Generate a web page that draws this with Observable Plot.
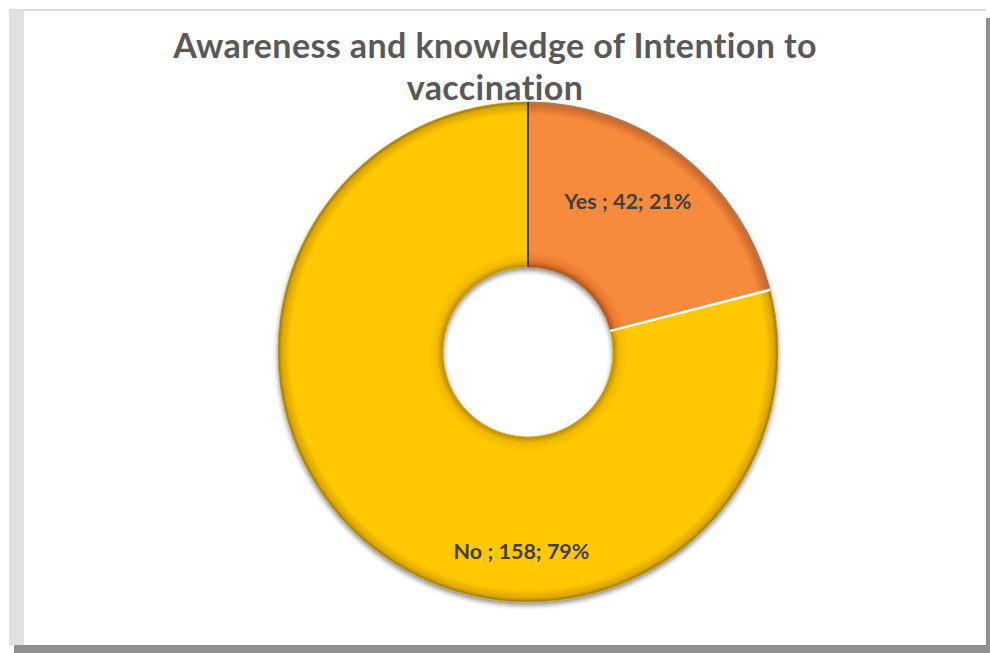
<!DOCTYPE html>
<html>
<head>
<meta charset="utf-8">
<script src="https://cdn.jsdelivr.net/npm/d3@7"></script>
<script src="https://cdn.jsdelivr.net/npm/@observablehq/plot@0.6"></script>
<style>
  html, body { margin: 0; padding: 0; background: #ffffff; }
  #page { position: relative; width: 990px; height: 653px; overflow: hidden; background: #ffffff; }
  #frame {
    position: absolute; left: 9px; top: 9px; width: 962px; height: 634px;
    background: #ffffff;
    border-top: 2px solid #dcdcdc;
    border-left: 15px solid #e1e1e1;
    box-shadow: 5px 9px 0 #8f8f8f;
  }
  #title {
    position: absolute; left: 0; top: 24px; width: 990px; text-align: center;
    font-family: Lato, "Open Sans", sans-serif; font-weight: bold; font-size: 34px;
    letter-spacing: 0.4px; line-height: 42px; color: #595959;
  }
  #title span { display: block; position: relative; left: 0; }
  #chart { position: absolute; left: 0; top: 0; }
</style>
</head>
<body>
<div id="page">
  <div id="frame"></div>
  <div id="chart"></div>
  <div id="title"><span>Awareness and knowledge of Intention to</span><span>vaccination</span></div>
</div>
<script>
// ---- data ----
const categories = ["Yes", "No"];
const counts = [42, 158];
const percents = [21, 79];

// ---- presentation ----
const colors = { Yes: "#F68A3C", No: "#FFC800" };
const innerRatio = 0.34;
// label placement (polar, angle clockwise from 12 o'clock in degrees, radius as fraction of outer radius)
const labelPlacement = { Yes: { angle: 33.5, r: 0.72 }, No: { angle: 182, r: 0.80 } };
const cx = 528, cy = 352, R = 250;

const rows = categories.map((c, i) => ({ category: c, count: counts[i], percent: percents[i] }));
const arcs = d3.pie().sort(null).value(d => d.count)(rows);

const labels = rows.map(d => {
  const p = labelPlacement[d.category];
  const a = p.angle * Math.PI / 180;
  return { ...d, lx: p.r * Math.sin(a), ly: p.r * Math.cos(a), text: `${d.category} ; ${d.count}; ${d.percent}%` };
});

function donutMark(index, scales, values, dimensions) {
  const X = scales && scales.x ? scales.x : (v => cx + v * R);
  const Y = scales && scales.y ? scales.y : (v => cy - v * R);
  const ox = X(0), oy = Y(0), rad = X(1) - X(0);
  const r0 = rad * innerRatio;
  const g = d3.create("svg:g");
  const defs = g.append("defs");
  const filt = defs.append("filter").attr("id", "shadow").attr("x", "-20%").attr("y", "-20%").attr("width", "140%").attr("height", "140%");
  filt.append("feDropShadow").attr("dx", 0).attr("dy", 3).attr("stdDeviation", 2.5).attr("flood-color", "#000").attr("flood-opacity", 0.45);

  const grad = (id, dark, mid, base, edge, rim) => {
    const gr = defs.append("radialGradient").attr("id", id).attr("gradientUnits", "userSpaceOnUse")
      .attr("cx", 0).attr("cy", 0).attr("r", rad);
    [[innerRatio, dark], [innerRatio + 0.025, mid], [innerRatio + 0.06, base], [0.95, base], [0.985, edge], [1, rim]]
      .forEach(([o, c]) => gr.append("stop").attr("offset", o).attr("stop-color", c));
  };
  grad("g-Yes", "#A85418", "#E8782E", colors.Yes, "#D26C2A", "#9a7a66");
  grad("g-No", "#B88C00", "#F2BA00", colors.No, "#DDA600", "#8a7420");

  const arcGen = d3.arc().innerRadius(r0).outerRadius(rad);
  const wrap = g.append("g").attr("transform", `translate(${ox},${oy})`);
  const sl = wrap.append("g").attr("filter", "url(#shadow)");
  sl.selectAll("path").data(arcs).join("path")
    .attr("d", arcGen)
    .attr("fill", d => `url(#g-${d.data.category})`)
    .attr("stroke", d => d.data.category === "Yes" ? "#c46a2a" : "#d9a400")
    .attr("stroke-width", 0.8);

  // slice boundary lines derived from the pie angles
  const yes = arcs[0];
  const ray = (a, color, w) => wrap.append("line")
    .attr("x1", r0 * Math.sin(a)).attr("y1", -r0 * Math.cos(a))
    .attr("x2", rad * Math.sin(a)).attr("y2", -rad * Math.cos(a))
    .attr("stroke", color).attr("stroke-width", w);
  ray(yes.startAngle, "#3a3a3a", 2);
  ray(yes.endAngle, "#ffffff", 2.5);
  return g.node();
}

const plot = Plot.plot({
  width: 990,
  height: 653,
  margin: 0,
  style: { background: "transparent", overflow: "visible" },
  x: { domain: [-1, 1], range: [cx - R, cx + R], axis: null },
  y: { domain: [-1, 1], range: [cy + R, cy - R], axis: null },
  marks: [
    donutMark,
    Plot.text(labels, {
      x: "lx", y: "ly", text: "text",
      fill: "#404040", fontSize: 21.5, fontWeight: "bold",
      fontFamily: "Lato, 'Open Sans', sans-serif"
    })
  ]
});
document.getElementById("chart").appendChild(plot);
</script>
</body>
</html>
